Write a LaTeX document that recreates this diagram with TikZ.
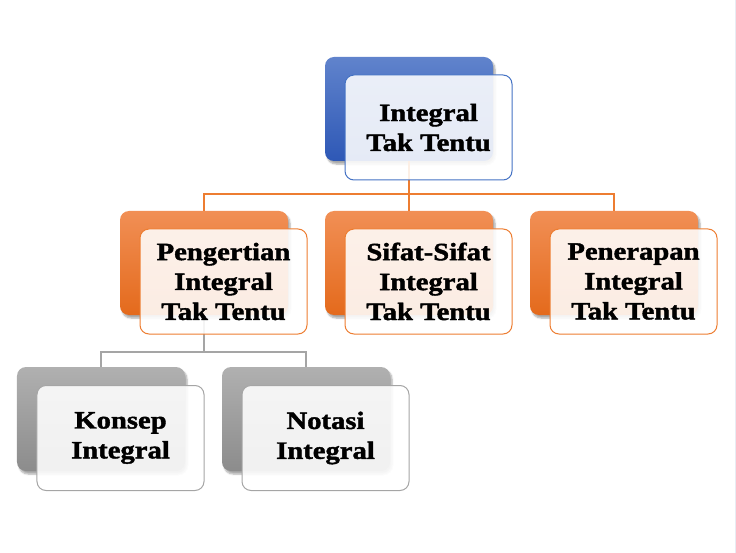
\documentclass[tikz,border=0pt]{standalone}
\usepackage{fontspec}
\newfontfamily\boxfont{Liberation Serif}[FakeStretch=1.15,FakeBold=1.6]
\usetikzlibrary{shadows.blur}
\definecolor{blueA}{RGB}{96,131,204}
\definecolor{blueB}{RGB}{46,88,182}
\definecolor{blueLine}{RGB}{68,114,196}
\definecolor{orA}{RGB}{241,143,85}
\definecolor{orB}{RGB}{228,106,28}
\definecolor{orLine}{RGB}{237,125,49}
\definecolor{grA}{RGB}{176,176,176}
\definecolor{grB}{RGB}{140,140,140}
\definecolor{grLine}{RGB}{165,165,165}
\definecolor{edge}{RGB}{232,236,243}
\tikzset{
  backbox/.style={rectangle, rounded corners=9bp, minimum width=168bp, minimum height=104bp, inner sep=0pt,
    blur shadow={shadow xshift=2bp, shadow yshift=-3bp, shadow blur steps=6, shadow opacity=35}},
  bluebk/.style={backbox, top color=blueA, bottom color=blueB},
  orbk/.style={backbox, top color=orA, bottom color=orB},
  grbk/.style={backbox, top color=grA, bottom color=grB},
  frontbox/.style={rectangle, rounded corners=9bp, minimum width=167bp, minimum height=105bp, inner sep=0pt,
    fill=white, fill opacity=0.88, text opacity=1, line width=1bp, align=center,
    font=\boxfont\bfseries\fontsize{25}{30}\selectfont},
  bluefr/.style={frontbox, draw=blueLine},
  orfr/.style={frontbox, draw=orLine},
  grfr/.style={frontbox, draw=grLine},
  orconn/.style={draw=orLine, line width=2bp},
  grconn/.style={draw=grLine, line width=2bp},
}
\begin{document}
\begin{tikzpicture}[x=1bp,y=-1bp]
\useasboundingbox (0,0) rectangle (736,553);
\fill[edge] (734.5,0) rectangle (736,553);
% junction coordinates
\coordinate (j1) at (409,194);
\coordinate (j2) at (204,352);
% back boxes
\node[bluebk] (b1) at (409,109) {};
\node[orbk] (b21) at (204,263) {};
\node[orbk] (b22) at (409,263) {};
\node[orbk] (b23) at (614,263) {};
\node[grbk] (b31) at (101,419) {};
\node[grbk] (b32) at (306,419) {};
% connectors
\draw[orconn] (b1.south) -- (b1.south |- j1) -| (b21.north);
\draw[orconn] (j1) -- (b22.north);
\draw[orconn] (j1) -| (b23.north);
\draw[grconn] (b21.south) -- (b21.south |- j2) -| (b31.north);
\draw[grconn] (j2) -| (b32.north);
% front boxes
\node[bluefr] (f1) at (428.5,127.5) {Integral\\Tak Tentu};
\node[orfr] (f21) at (223.5,281.5) {Pengertian\\Integral\\Tak Tentu};
\node[orfr] (f22) at (428.5,281.5) {Sifat-Sifat\\Integral\\Tak Tentu};
\node[orfr] (f23) at (633.5,281.5) {Penerapan\\Integral\\Tak Tentu};
\node[grfr] (f31) at (120.5,438) {Konsep\\Integral};
\node[grfr] (f32) at (325.5,438) {Notasi\\Integral};
\end{tikzpicture}
\end{document}
